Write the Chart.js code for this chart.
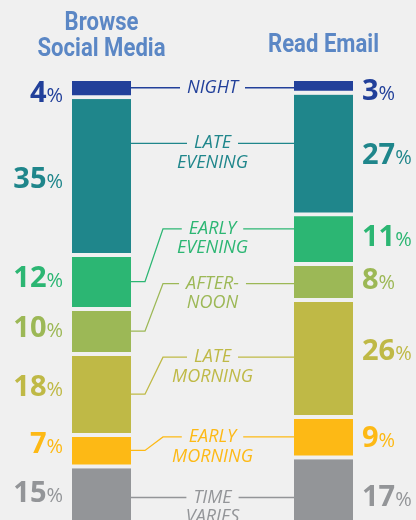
<!DOCTYPE html>
<html>
<head>
<meta charset="utf-8">
<script src="https://cdn.jsdelivr.net/npm/chart.js@4/dist/chart.umd.min.js"></script>
<style>
  html, body { margin: 0; padding: 0; background: #f0f0f0; overflow: hidden; }
</style>
</head>
<body>
<canvas id="chart" width="416" height="520"></canvas>
<script>
// activities (x categories), each one a stacked bar
const activities = [['Browse', 'Social Media'], ['Read Email']];

// time of day, top of the stack first
const periods = [
    ['NIGHT'],
    ['LATE', 'EVENING'],
    ['EARLY', 'EVENING'],
    ['AFTER-', 'NOON'],
    ['LATE', 'MORNING'],
    ['EARLY', 'MORNING'],
    ['TIME', 'VARIES']
];

// share of people (%) per period
const socialMedia = [4, 35, 12, 10, 18, 7, 15];
const readEmail = [3, 27, 11, 8, 26, 9, 17];

const periodColors = ['#22409a', '#1f868b', '#2cb673', '#9cb856', '#bfb946', '#fdb915', '#939598'];
const BG = '#f0f0f0';

// hand placement tweaks (px) so labels don't crowd each other
const nameNudge = [0, -12, -12, 0, -3, -2, 0];
const leftValueNudge = [3, 2, -5, -5, -9, -8, -8];
const rightValueNudge = [4, 0, -3, -3, -9, 0, 0];

const labelPlugin = {
    id: 'periodLabels',
    afterDatasetsDraw(chart) {
        const ctx = chart.ctx;
        const xs = chart.scales.x;
        const gap = 4;
        ctx.save();

        // column titles (condensed look by squeezing Roboto a little)
        ctx.font = 'bold 26px Roboto, "DejaVu Sans", sans-serif';
        ctx.fillStyle = '#5b87c5';
        ctx.textAlign = 'center';
        ctx.textBaseline = 'alphabetic';
        chart.data.labels.forEach((lines, j) => {
            const cx = xs.getPixelForValue(j);
            const base = lines.length > 1 ? 56 : 52;
            lines.forEach((t, k) => {
                ctx.save();
                ctx.translate(cx, base - (lines.length - 1 - k) * 26);
                ctx.scale(0.85, 1);
                ctx.fillText(t, 0, 0);
                ctx.restore();
            });
        });

        const numFont = 'bold 29px "Open Sans", sans-serif';
        const pctFont = '20px "Open Sans", sans-serif';
        const nameFont = 'italic 18px "Open Sans", sans-serif';

        chart.data.datasets.forEach((ds, i) => {
            const meta = chart.getDatasetMeta(i);
            const seg = el => {
                const top = Math.min(el.y, el.base);
                const bottom = Math.max(el.y, el.base);
                return { top, bottom, mid: (top + bottom) / 2, left: el.x - el.width / 2, right: el.x + el.width / 2 };
            };
            const l = seg(meta.data[0]);
            const r = seg(meta.data[1]);
            const color = ds.backgroundColor;
            ctx.fillStyle = color;
            ctx.strokeStyle = color;

            // value labels: bold number + lighter percent sign
            const drawValue = (v, y, xAnchor, alignRight) => {
                ctx.textAlign = 'left';
                ctx.textBaseline = 'alphabetic';
                ctx.font = numFont;
                const wn = ctx.measureText(String(v)).width;
                ctx.font = pctFont;
                const wp = ctx.measureText('%').width;
                const x0 = alignRight ? xAnchor - wn - wp : xAnchor;
                ctx.font = numFont;
                ctx.fillText(String(v), x0, y + 10.5);
                ctx.font = pctFont;
                ctx.fillText('%', x0 + wn, y + 10.5);
            };
            drawValue(ds.data[0], l.mid - gap / 2 + leftValueNudge[i], l.left - 9, true);
            drawValue(ds.data[1], r.mid - gap / 2 + rightValueNudge[i], r.right + 9, false);

            // period name in the middle
            const midX = (l.right + r.left) / 2;
            const textY = r.mid + nameNudge[i];
            const lines = ds.label;
            ctx.font = nameFont;
            ctx.textAlign = 'center';
            ctx.textBaseline = 'middle';
            lines.forEach((t, k) => ctx.fillText(t, midX, textY + k * 19.5));
            const w0 = ctx.measureText(lines[0]).width;
            const tStart = midX - w0 / 2 - 7;
            const tEnd = midX + w0 / 2 + 7;

            ctx.lineWidth = 1.3;
            ctx.beginPath();
            // right connector
            ctx.moveTo(tEnd, textY);
            ctx.lineTo(r.left, textY);
            // left connector: straight if it lands on its segment, else an elbow
            const straight = (textY > l.top + 10 && textY < l.bottom - 10) || Math.abs(textY - l.mid) < 6;
            if (straight) {
                ctx.moveTo(l.right, textY);
                ctx.lineTo(tStart, textY);
            } else {
                const ly = l.mid - gap / 2;
                ctx.moveTo(l.right, ly);
                ctx.lineTo(l.right + 14, ly);
                ctx.lineTo(l.right + 32, textY);
                ctx.lineTo(tStart, textY);
            }
            ctx.stroke();
        });
        ctx.restore();
    }
};

const datasets = periods.map((p, i) => ({
    label: p,
    data: [socialMedia[i], readEmail[i]],
    backgroundColor: periodColors[i],
    borderColor: BG,
    borderWidth: { top: 0, right: 0, bottom: 4, left: 0 },
    borderSkipped: false,
    barThickness: 59,
    clip: false
}));

new Chart(document.getElementById('chart'), {
    type: 'bar',
    data: {
        labels: activities,
        datasets: datasets
    },
    options: {
        responsive: false,
        animation: false,
        layout: { padding: { top: 81, left: 101.5, right: 92.5, bottom: 0 } },
        plugins: {
            legend: { display: false },
            tooltip: { enabled: false }
        },
        scales: {
            x: { stacked: true, offset: false, display: false },
            y: { stacked: true, reverse: true, min: 0, max: 97.5, display: false }
        }
    },
    plugins: [labelPlugin]
});
</script>
</body>
</html>
